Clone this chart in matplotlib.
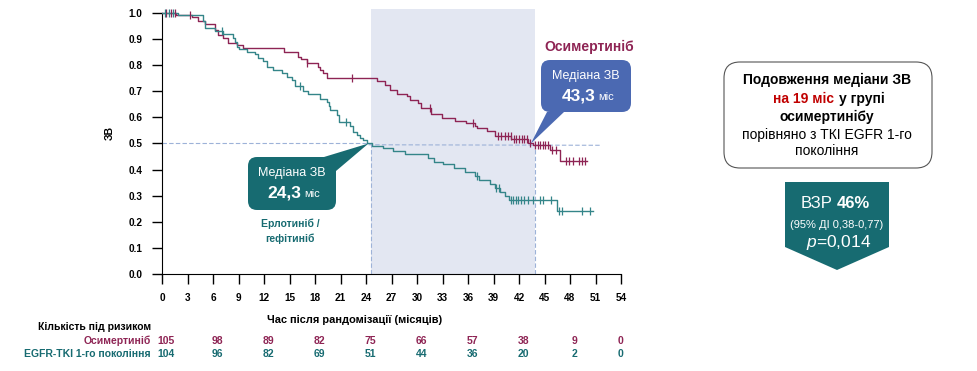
import matplotlib
matplotlib.use("Agg")
import matplotlib.pyplot as plt
from matplotlib.patches import FancyBboxPatch, Polygon
from matplotlib.transforms import IdentityTransform

plt.rcParams['font.family'] = ['Liberation Sans', 'DejaVu Sans']
plt.rcParams['mathtext.fontset'] = 'custom'
plt.rcParams['mathtext.it'] = 'Liberation Sans:italic'
plt.rcParams['mathtext.rm'] = 'Liberation Sans'

# --- data ---
osi_t = [0, 1.7, 3.5, 4.2, 5.1, 6.2, 6.6, 7.2, 7.8, 8.8, 9.5, 14.3, 16.0, 16.4, 17.0, 18.4, 18.6,
         18.9, 19.4, 25.3, 26.2, 26.8, 27.6, 28.8, 29.2, 30.1, 30.5, 31.7, 32.9, 34.5, 35.8, 36.8,
         37.0, 38.2, 39.2, 41.1, 43.1, 43.6, 45.6, 46.8, 50.0]
osi_s = [1.0, 0.993, 0.983, 0.97, 0.958, 0.935, 0.916, 0.903, 0.886, 0.877, 0.867, 0.852, 0.833,
         0.822, 0.81, 0.794, 0.782, 0.769, 0.752, 0.739, 0.724, 0.706, 0.69, 0.68, 0.667, 0.655,
         0.637, 0.614, 0.599, 0.586, 0.577, 0.567, 0.558, 0.549, 0.530, 0.518, 0.502, 0.494,
         0.475, 0.433, 0.433]
osi_cens_t = [0.5, 1.0, 1.5, 3.3, 17.0, 22.4, 31.5, 36.6, 39.5, 39.9, 40.3, 40.7, 41.0, 41.4, 41.7,
              42.0, 42.3, 42.6, 42.9, 43.3, 43.9, 44.2, 44.5, 44.8, 45.1, 45.4, 45.9, 46.4,
              47.5, 47.9, 48.3, 49.0, 49.4, 49.8]

egfr_t = [0, 1.9, 4.8, 5.1, 6.2, 7.2, 8.4, 8.6, 8.8, 9.0, 10.0, 10.9, 11.3, 11.9, 12.3, 13.1, 14.1,
          14.7, 15.3, 15.6, 16.6, 17.2, 18.6, 19.4, 19.6, 19.8, 20.6, 20.8, 22.1, 22.5, 22.9, 23.3,
          23.7, 24.1, 24.7, 26.0, 27.2, 28.6, 31.3, 32.0, 33.0, 34.3, 35.6, 36.8, 37.3, 38.6, 39.2,
          39.8, 40.4, 40.8, 46.5, 50.7]
egfr_s = [1.0, 0.993, 0.97, 0.941, 0.932, 0.918, 0.903, 0.89, 0.871, 0.861, 0.852, 0.843, 0.826,
          0.814, 0.794, 0.782, 0.769, 0.753, 0.743, 0.72, 0.702, 0.69, 0.669, 0.66, 0.644, 0.628,
          0.609, 0.584, 0.567, 0.545, 0.533, 0.522, 0.513, 0.50, 0.49, 0.482, 0.47, 0.46, 0.445,
          0.43, 0.42, 0.405, 0.39, 0.375, 0.36, 0.345, 0.33, 0.315, 0.30, 0.283, 0.243, 0.243]
egfr_cens_t = [0.3, 0.8, 1.3, 7.0, 16.2, 21.6, 37.0, 39.3, 39.7, 41.0, 41.3, 41.6, 41.9, 42.2,
               42.6, 43.0, 43.6, 44.5, 44.8, 45.8, 46.7, 47.1, 49.4, 50.4]

risk_times = [0, 6, 12, 18, 24, 30, 36, 42, 48, 54]
osi_risk = [105, 98, 89, 82, 75, 66, 57, 38, 9, 0]
egfr_risk = [104, 96, 82, 69, 51, 44, 36, 20, 2, 0]

median_egfr = 24.3
median_osi = 43.3

PURPLE = '#8E2454'
TEAL = '#348589'
TEAL_DARK = '#176B71'
BLUE = '#4B69B2'
DASH = '#9DB2D8'
W, H = 977, 371


def surv_at(ts, ss, x):
    v = ss[0]
    for t, s in zip(ts, ss):
        if t <= x:
            v = s
    return v


fig = plt.figure(figsize=(W / 100, H / 100), dpi=100)
ax = fig.add_axes([162 / W, 1 - 274 / H, (621 - 162) / W, (274 - 9) / H])
ax.set_xlim(0, 54)
ax.set_ylim(0, 1.015)

# shaded band between medians
ax.axvspan(24.6, 43.9, ymin=0, ymax=1, color='#E3E7F2', zorder=0, lw=0)

# dashed median guides
ax.plot([0, median_egfr], [0.5, 0.5], ls=(0, (4, 2)), color=DASH, lw=0.8, zorder=1)
ax.plot([median_egfr, 51.5], [0.495, 0.493], ls=(0, (4, 2)), color=DASH, lw=0.8, zorder=1)
ax.plot([24.6, 24.6], [0, 0.5], ls=(0, (4, 2)), color=DASH, lw=0.8, zorder=1)
ax.plot([43.9, 43.9], [0, 0.495], ls=(0, (4, 2)), color=DASH, lw=0.8, zorder=1)

# KM curves
ax.step(osi_t, osi_s, where='post', color=PURPLE, lw=1.0, zorder=3)
ax.step(egfr_t, egfr_s, where='post', color=TEAL, lw=1.0, zorder=3)
ax.plot(osi_cens_t, [surv_at(osi_t, osi_s, t) for t in osi_cens_t], ls='none', marker='|',
        ms=6, mew=0.9, color=PURPLE, zorder=4)
ax.plot(egfr_cens_t, [surv_at(egfr_t, egfr_s, t) for t in egfr_cens_t], ls='none', marker='|',
        ms=6, mew=0.9, color=TEAL, zorder=4)

# axes styling
for sp in ['top', 'right']:
    ax.spines[sp].set_visible(False)
ax.spines['left'].set_bounds(0, 1.0)
ax.set_xticks(range(0, 55, 3))
ax.set_yticks([i / 10 for i in range(11)])
ax.set_yticklabels(['%.1f' % (i / 10) for i in range(11)])
ax.tick_params(axis='both', direction='out', length=7, width=1, labelsize=7.2, pad=7)
for lab in ax.get_xticklabels() + ax.get_yticklabels():
    lab.set_fontweight('bold')

T = IdentityTransform()


def ptext(x, y, s, **kw):
    fig.text(x, H - y, s, transform=T, **kw)


ptext(110, 133, 'ЗВ', rotation=90, fontsize=7.5, fontweight='bold', ha='center', va='center')
ptext(355, 320, 'Час після рандомізації (місяців)', fontsize=7.9, fontweight='bold',
      ha='center', va='center')

# risk table
ptext(151, 327, 'Кількість під ризиком', fontsize=7.5, fontweight='bold', ha='right', va='center')
ptext(151, 341, 'Осимертиніб', fontsize=7.5, fontweight='bold', ha='right', va='center',
      color=PURPLE)
ptext(151, 354, 'EGFR-TKI 1-го покоління', fontsize=7.5, fontweight='bold', ha='right',
      va='center', color=TEAL_DARK)
for t, a, b in zip(risk_times, osi_risk, egfr_risk):
    xd = ax.transData.transform((t + (0.5 if t < 54 else 0), 0))[0]
    ptext(xd, 341, str(a), fontsize=7.5, fontweight='bold', ha='center', va='center', color=PURPLE)
    ptext(xd, 354, str(b), fontsize=7.5, fontweight='bold', ha='center', va='center',
          color=TEAL_DARK)

# arm labels
ptext(589, 47, 'Осимертиніб', fontsize=10, fontweight='bold', ha='center', va='center',
      color=PURPLE)
ptext(290, 231, 'Ерлотиніб /\nгефітиніб', fontsize=7.5, fontweight='bold', ha='center',
      va='center', color=TEAL_DARK, linespacing=1.5)


def callout(x0, y0, x1, y1, base, tip, color, val):
    box = FancyBboxPatch((x0, H - y1), x1 - x0, y1 - y0, boxstyle='round,pad=0,rounding_size=9',
                         transform=T, fc=color, ec='none', zorder=5)
    fig.patches.append(box)
    tri = Polygon([(base[0][0], H - base[0][1]), (base[1][0], H - base[1][1]), tip],
                  closed=True, transform=T, fc=color, ec='none', zorder=5)
    fig.patches.append(tri)
    cx = (x0 + x1) / 2
    ptext(cx, y0 + 16, 'Медіана ЗВ', fontsize=9, color='white', ha='center', va='center',
          zorder=6)
    ptext(cx + 9, y0 + 36, val, fontsize=12.5, fontweight='bold', color='white', ha='right',
          va='center', zorder=6)
    ptext(cx + 12, y0 + 37, 'міс', fontsize=8, color='white', ha='left', va='center', zorder=6)


tip_e = ax.transData.transform((median_egfr, 0.5))
callout(248, 157, 336, 210, [(324, 157), (336, 171)], tip_e, TEAL_DARK, '24,3')
tip_o = ax.transData.transform((median_osi + 0.1, 0.5))
callout(541, 60, 631, 112, [(547, 112), (564, 112)], tip_o, BLUE, '43,3')

# right summary box
sb = FancyBboxPatch((724, H - 168), 208, 106, boxstyle='round,pad=0,rounding_size=16',
                    transform=T, fc='white', ec='#555555', lw=0.8)
fig.patches.append(sb)
ptext(827, 80, 'Подовження медіани ЗВ', fontsize=10, fontweight='bold', ha='center', va='center')
ptext(834, 99, 'на 19 міс', fontsize=10, fontweight='bold', ha='right', va='center',
      color='#C00000')
ptext(839, 99, 'у групі', fontsize=10, fontweight='bold', ha='left', va='center')
ptext(827, 117, 'осимертинібу', fontsize=10, fontweight='bold', ha='center', va='center')
ptext(827, 135, 'порівняно з ТКІ EGFR 1-го', fontsize=10, ha='center', va='center')
ptext(827, 151, 'покоління', fontsize=10, ha='center', va='center')

# hazard-ratio arrow badge
pent = Polygon([(785, H - 182), (889, H - 182), (889, H - 247), (837, H - 270), (785, H - 247)],
               closed=True, transform=T, fc=TEAL_DARK, ec='none')
fig.patches.append(pent)
ptext(833, 203, 'ВЗР', fontsize=12, color='white', ha='right', va='center')
ptext(837, 203, '46%', fontsize=12, fontweight='bold', color='white', ha='left', va='center')
ptext(837, 225, '(95% ДІ 0,38-0,77)', fontsize=8, color='white', ha='center', va='center')
ptext(839, 243, r'$\mathit{p}$=0,014', fontsize=12.5, color='white', ha='center', va='center')

fig.savefig('out.png', dpi=100)
